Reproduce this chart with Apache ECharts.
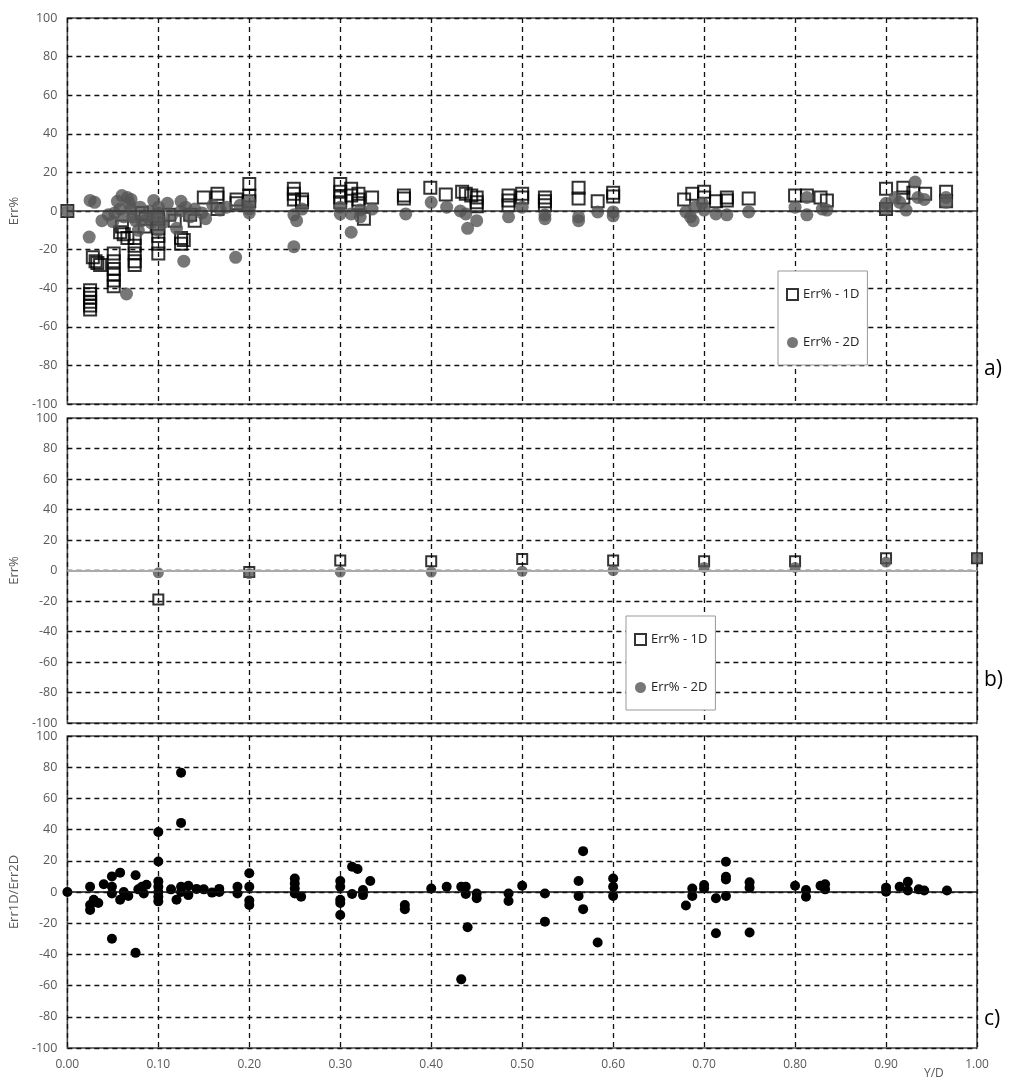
<!DOCTYPE html>
<html>
<head>
<meta charset="utf-8">
<script src="https://cdn.jsdelivr.net/npm/echarts@6/dist/echarts.min.js"></script>
<style>
html,body{margin:0;padding:0;background:#fff;}
#chart{width:1010px;height:1082px;}
</style>
</head>
<body>
<div id="chart"></div>
<script>
// ---- DATA ----
var xTicks = [0,0.1,0.2,0.3,0.4,0.5,0.6,0.7,0.8,0.9,1.0];
var yTicks = [-100,-80,-60,-40,-20,0,20,40,60,80,100];

// Panel a) Err% - 1D  [Y/D, Err%]
var panelA_1D = [
[0,0],
[0.025,-41],[0.025,-43],[0.025,-45],[0.025,-47],[0.025,-49],[0.025,-51],
[0.028,-24],[0.031,-26],[0.033,-27],[0.036,-28],
[0.051,-22],[0.051,-26],[0.051,-30],[0.051,-33],[0.051,-36],[0.051,-39],
[0.058,-11],[0.060,-8],[0.062,-12],[0.066,-14],
[0.074,-14],[0.074,-18],[0.074,-22],[0.074,-26],[0.074,-28],
[0.082,-1],[0.086,-4],[0.085,-8],
[0.1,-4],[0.1,-9],[0.1,-13],[0.1,-17],[0.1,-22],
[0.112,-2],[0.118,-5],
[0.125,-14],[0.125,-17],[0.128,-15],
[0.135,-2],[0.14,-5],[0.15,7],[0.165,9],[0.165,1],[0.165,7],
[0.186,6],[0.186,4],[0.2,14],[0.2,8],[0.2,5],
[0.249,11.5],[0.249,9],[0.249,6],[0.258,6],[0.258,4.5],
[0.3,14],[0.3,10],[0.3,7],[0.3,4.5],[0.312,11.5],[0.312,8],[0.32,9],[0.32,6],[0.32,4],[0.326,-4],[0.335,7],
[0.37,8],[0.37,6.5],[0.399,12],[0.416,8.5],[0.434,10],[0.438,9],[0.444,8],[0.45,7],[0.45,4.5],[0.45,2.5],
[0.485,8],[0.485,5.5],[0.485,3],[0.5,9],[0.5,7],[0.525,7],[0.525,5],[0.525,3],[0.562,12],[0.562,6.5],[0.583,5],[0.6,9.5],[0.6,7.5],
[0.678,6],[0.687,9],[0.7,10],[0.7,7],[0.713,5],[0.725,7],[0.725,5.5],[0.749,6.5],
[0.8,8],[0.813,8],[0.828,7],[0.835,5.5],
[0.9,11.5],[0.9,1],[0.919,12],[0.919,7],[0.93,9.5],[0.943,9],[0.966,10],[0.966,5]
];

// Panel a) Err% - 2D
var panelA_2D = [
[0,0],
[0.025,5.5],[0.03,4.5],[0.024,-13.5],[0.038,-5],[0.045,-2],[0.05,-5.5],[0.052,-1],[0.055,5],[0.06,8],[0.066,7],[0.065,-43],
[0.058,1],[0.062,-3],[0.07,6],[0.07,1],[0.075,-5],[0.08,2],[0.09,0],[0.092,-6],
[0.068,4],[0.072,-3],[0.078,-10],[0.082,-5],[0.088,-3],[0.095,5.5],[0.1,2],[0.1,-4],[0.1,-10],[0.1,-1],[0.105,-6],
[0.11,4],[0.115,-2],[0.12,-9],[0.125,5],[0.125,0],[0.128,-26],[0.13,2],[0.135,-3],[0.14,1],[0.148,-1],[0.152,-4],[0.16,3],[0.168,0.5],[0.175,2],[0.185,-24],[0.19,3],[0.2,1],[0.2,5],[0.2,-1],
[0.249,-2],[0.252,-5],[0.249,-18.5],[0.258,1],[0.3,2],[0.3,-1.5],[0.312,-11],[0.312,-1.5],[0.322,-3],[0.322,0.5],[0.335,1],
[0.372,-1.5],[0.4,4.5],[0.417,2],[0.432,0],[0.438,-1.5],[0.44,-9],[0.45,-5],[0.485,-3],[0.5,2],[0.525,-2],[0.525,-4],[0.562,-3],[0.562,-5],[0.583,-0.5],[0.6,-0.5],[0.6,-2.5],
[0.68,-0.5],[0.685,-3],[0.688,-5],[0.69,2],[0.698,4],[0.7,0.5],[0.713,-1.5],[0.725,-2],[0.749,-0.5],
[0.8,2],[0.813,7],[0.813,-2],[0.83,1],[0.835,0.5],
[0.9,4],[0.9,1],[0.91,7],[0.915,4.5],[0.922,0.5],[0.932,15],[0.935,7],[0.942,6],[0.966,7],[0.966,4.5]
];

// Panel b)
var panelB_x  = [0.1,0.2,0.3,0.4,0.5,0.6,0.7,0.8,0.9,1.0];
var panelB_1D = [-19,-1,6.5,6,7.5,6.5,6,6,8,8];
var panelB_2D = [-1.5,-2,-1,-1,-0.5,0,2,2,5.5,8];

// Panel c) Err1D/Err2D
var panelC = [
[0,0],
[0.025,3.4],[0.025,-8.3],[0.025,-11.5],[0.029,-5],[0.034,-7],[0.040,5],
[0.049,10],[0.049,3.4],[0.049,-1],[0.049,-30],[0.058,12.4],[0.058,-5],[0.062,0],[0.067,-2.6],
[0.075,10.7],[0.075,-39],[0.078,1.7],[0.082,3.4],[0.084,-1],[0.087,4.7],
[0.1,38.5],[0.1,19.6],[0.1,6.8],[0.1,3.4],[0.1,0],[0.1,-3],[0.1,-6],
[0.114,1.7],[0.12,-5],[0.125,76.5],[0.125,44.3],[0.125,3.4],[0.125,0],[0.133,4],[0.133,-2],[0.142,2],[0.15,1.7],[0.159,-0.4],[0.167,2],[0.167,0],[0.187,3.4],[0.187,-1],
[0.2,12],[0.2,3.4],[0.2,-5.5],[0.2,-8.3],
[0.25,8.7],[0.25,5.5],[0.25,2.3],[0.25,-1],[0.257,-3],
[0.3,7],[0.3,3.4],[0.3,-5],[0.3,-7],[0.3,-14.7],
[0.313,16.2],[0.319,14.7],[0.313,-1.3],[0.325,1.3],[0.325,-2],[0.333,7],
[0.371,-8.3],[0.371,-11],[0.4,2.3],[0.417,3.4],[0.433,3.4],[0.438,3.4],[0.438,-1.3],[0.433,-56],[0.44,-22.6],[0.45,-1],[0.45,-4],
[0.485,-1],[0.485,-5.8],[0.5,4],[0.525,-1],[0.525,-19],[0.562,7],[0.562,-2.6],[0.567,26.2],[0.567,-11],[0.583,-32.4],[0.6,8.7],[0.6,3.4],[0.6,-2.6],
[0.68,-8.7],[0.687,2.3],[0.687,-2.6],[0.7,4.5],[0.7,2.3],[0.713,-4],[0.713,-26.4],[0.724,19.4],[0.724,9.8],[0.724,8],[0.724,-2.6],[0.75,6.2],[0.75,2.8],[0.75,-26],
[0.8,4],[0.812,1.3],[0.812,-3],[0.828,4],[0.833,5],[0.833,1.7],
[0.9,2.8],[0.9,0.2],[0.915,3.4],[0.924,6.6],[0.924,1],[0.936,1.7],[0.942,1],[0.967,1]
];

var seriesNames = ['Err% - 1D','Err% - 2D'];
var yNames = ['Err%','Err%','Err1D/Err2D'];
var panelTags = ['a)','b)','c)'];
var xName = 'Y/D';

// ---- CHART ----
var FONT = 'Open Sans';
var grids = [
  {left:62, top:18, width:915, height:386},
  {left:62, top:418, width:915, height:305},
  {left:62, top:736, width:915, height:312}
];
grids.forEach(function(g){ g.show = true; g.borderColor = '#4a4a4a'; g.borderWidth = 1.6; g.backgroundColor = 'transparent'; });

var splitStyle = {show:true, lineStyle:{color:'#111', type:[5,4], width:1.3}};

var xAxes = [0,1,2].map(function(i){
  return {
    type:'value', gridIndex:i, min:xTicks[0], max:xTicks[xTicks.length-1], interval:0.1,
    axisLine:{show:false}, axisTick:{show:false},
    splitLine:splitStyle,
    axisLabel:{show:i===2, color:'#595959', fontSize:12, fontFamily:FONT, margin:11,
      formatter:function(v){return v.toFixed(2);}}
  };
});
var yAxes = [0,1,2].map(function(i){
  return {
    type:'value', gridIndex:i, min:yTicks[0], max:yTicks[yTicks.length-1], interval:20,
    axisLine:{show:false}, axisTick:{show:false},
    splitLine:splitStyle,
    axisLabel:{color:'#595959', fontSize:12.5, fontFamily:FONT, margin:10},
    name:yNames[i], nameLocation:'middle', nameGap:38, nameRotate:90,
    nameTextStyle:{color:'#595959', fontSize:13, fontFamily:FONT}
  };
});

function zeroLine(color, width){
  return {silent:true, symbol:['none','none'], label:{show:false},
    lineStyle:{color:color, width:width, type:'solid'}, data:[{yAxis:0}], animation:false};
}

var sqStyle = {color:'rgba(0,0,0,0)', borderColor:'#000', borderWidth:2};
var ciStyle = {color:'#555'};

var series = [
  {name:seriesNames[0], type:'scatter', xAxisIndex:0, yAxisIndex:0, data:panelA_1D,
   symbol:'rect', symbolSize:12, itemStyle:sqStyle, markLine:zeroLine('#333',1.6), z:2},
  {name:seriesNames[1], type:'scatter', xAxisIndex:0, yAxisIndex:0, data:panelA_2D,
   symbol:'circle', symbolSize:13, itemStyle:ciStyle, z:3},
  {name:seriesNames[0], type:'scatter', xAxisIndex:1, yAxisIndex:1,
   data:panelB_x.map(function(x,i){return [x,panelB_1D[i]];}),
   symbol:'rect', symbolSize:10, itemStyle:sqStyle, markLine:zeroLine('#aaa',2), z:2},
  {name:seriesNames[1], type:'scatter', xAxisIndex:1, yAxisIndex:1,
   data:panelB_x.map(function(x,i){return [x,panelB_2D[i]];}),
   symbol:'circle', symbolSize:11, itemStyle:ciStyle, z:3},
  {name:yNames[2], type:'scatter', xAxisIndex:2, yAxisIndex:2, data:panelC,
   symbol:'circle', symbolSize:10, itemStyle:{color:'#000', opacity:1}, markLine:zeroLine('#111',1.6), z:3}
];

function legendAt(left, top){
  return {
    orient:'vertical', left:left, top:top, padding:[17,8,16,8], itemGap:35,
    itemWidth:11, itemHeight:11, backgroundColor:'#fff', borderColor:'#999', borderWidth:1,
    textStyle:{color:'#222', fontSize:13, fontFamily:FONT}, selectedMode:false,
    data:[
      {name:seriesNames[0], icon:'rect', itemStyle:{color:'rgba(0,0,0,0)', borderColor:'#000', borderWidth:2}},
      {name:seriesNames[1], icon:'circle', itemStyle:{color:'#555'}}
    ]
  };
}

var tagY = [372, 683, 1022];
var graphics = panelTags.map(function(t,i){
  return {type:'text', left:984, top:tagY[i]-13, style:{text:t, fill:'#000', font:'21px "Open Sans"'}};
});
graphics.push({type:'text', left:924, top:1068, style:{text:xName, fill:'#595959', font:'12px "Open Sans"'}});

var chart = echarts.init(document.getElementById('chart'), null, {renderer:'canvas'});
chart.setOption({
  animation:false,
  backgroundColor:'#fff',
  grid:grids, xAxis:xAxes, yAxis:yAxes, series:series,
  legend:[legendAt(778,271), legendAt(626,616)],
  graphic:graphics
});
</script>
</body>
</html>
